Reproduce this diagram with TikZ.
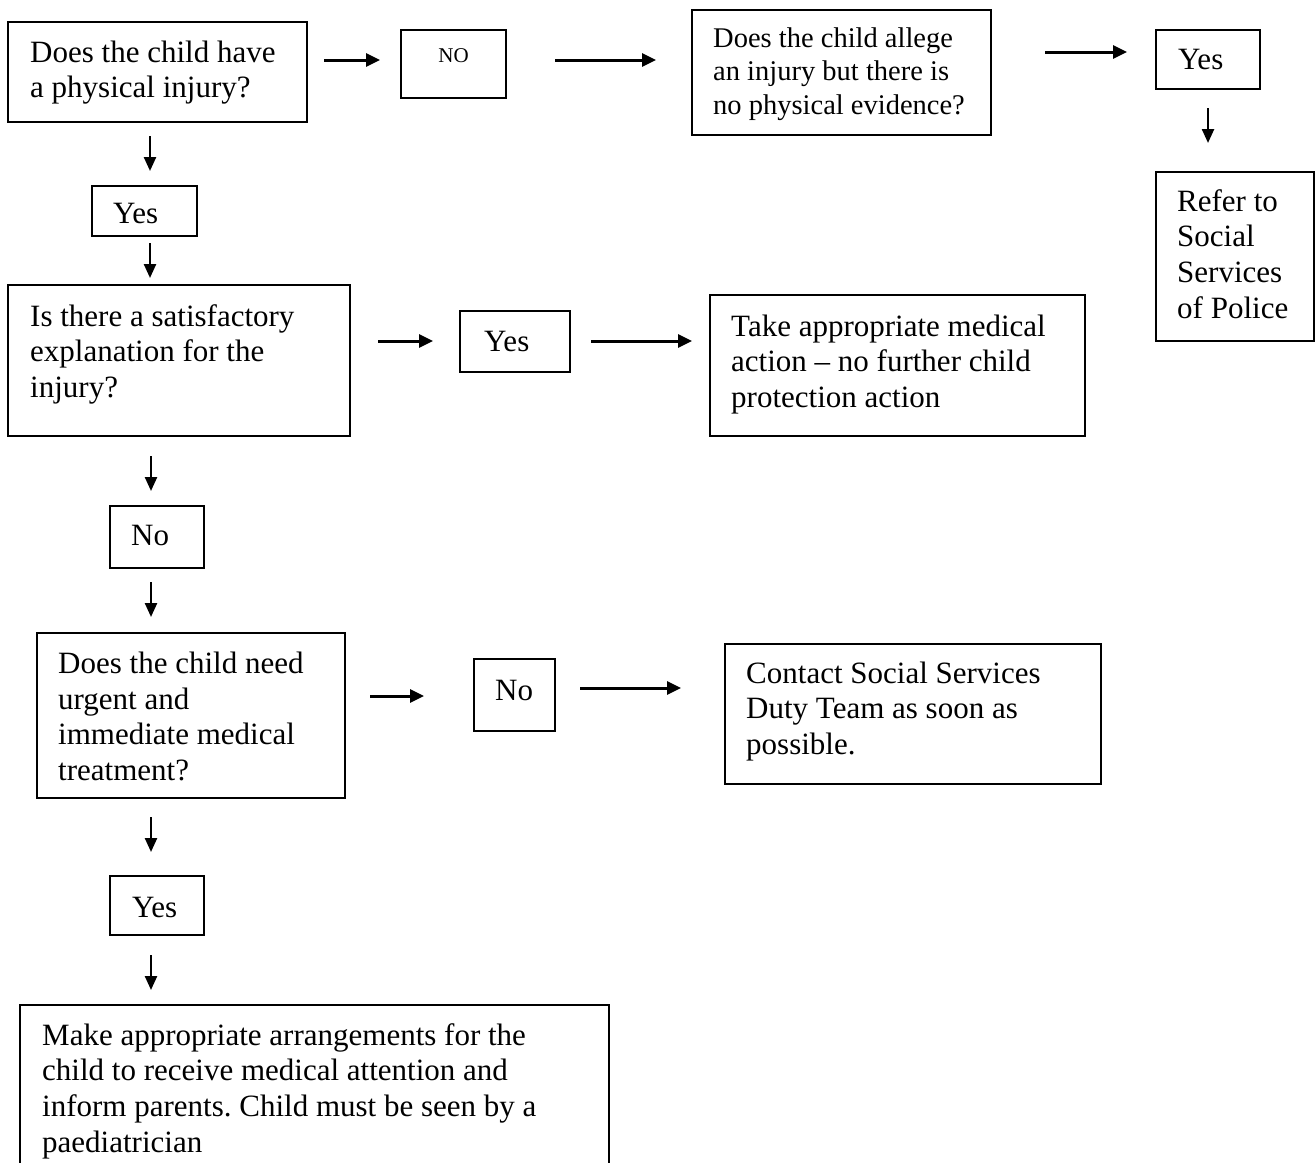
\documentclass[tikz,border=0pt]{standalone}
\usepackage{fontspec}
\setmainfont{Liberation Serif}
\usetikzlibrary{arrows.meta}
\frenchspacing
\newcommand\lns[1]{\begin{tabular}[t]{@{}l@{}}#1\end{tabular}}
\begin{document}
\begin{tikzpicture}[x=1pt,y=-1pt,
  box/.style={draw, line width=2.8pt, inner sep=0pt, outer sep=0pt, anchor=north west},
  txt/.style={inner sep=0pt, anchor=base west, font=\fontsize{31}{35.7}\selectfont},
  harr/.style={line width=3pt, -{Triangle[length=14pt,width=13pt]}},
  varr/.style={line width=2.4pt, -{Triangle[length=14pt,width=12pt]}}]
\fill[white] (0,0) rectangle (1316,1162);
\useasboundingbox (0,0) rectangle (1316,1162);
% boxes
\node[box, minimum width=299pt, minimum height=100pt] (q1) at (8,22) {};
\node[box, minimum width=105pt, minimum height=68pt] (n1) at (401,30) {};
\node[box, minimum width=299pt, minimum height=125pt] (q2) at (692,10) {};
\node[box, minimum width=104pt, minimum height=59pt] (y1) at (1156,30) {};
\node[box, minimum width=158pt, minimum height=169pt] (r1) at (1156,172) {};
\node[box, minimum width=105pt, minimum height=50pt] (y2) at (92,186) {};
\node[box, minimum width=342pt, minimum height=151pt] (q3) at (8,285) {};
\node[box, minimum width=110pt, minimum height=61pt] (y3) at (460,311) {};
\node[box, minimum width=375pt, minimum height=141pt] (a1) at (710,295) {};
\node[box, minimum width=94pt, minimum height=62pt] (n2) at (110,506) {};
\node[box, minimum width=308pt, minimum height=165pt] (q4) at (37,633) {};
\node[box, minimum width=81pt, minimum height=72pt] (n3) at (474,659) {};
\node[box, minimum width=376pt, minimum height=140pt] (a2) at (725,644) {};
\node[box, minimum width=94pt, minimum height=59pt] (y4) at (110,876) {};
\node[box, minimum width=589pt, minimum height=215pt] (a3) at (20,1005) {};
% texts
\node[txt] (q1t) at (30,62) {\lns{Does the child have\\a physical injury?}};
\node[txt, anchor=base, font=\fontsize{21}{24}\selectfont] (n1t) at (453.5,62) {NO};
\node[txt, font=\fontsize{28.5}{33.7}\selectfont] (q2t) at (713,47) {\lns{Does the child allege\\an injury but there is\\no physical evidence?}};
\node[txt] (y1t) at (1178,69) {Yes};
\node[txt] (r1t) at (1177,211) {\lns{Refer to\\Social\\Services\\of Police}};
\node[txt] (y2t) at (113,223) {Yes};
\node[txt] (q3t) at (30,326) {\lns{Is there a satisfactory\\explanation for the\\injury?}};
\node[txt] (y3t) at (484,351) {Yes};
\node[txt] (a1t) at (731,336) {\lns{Take appropriate medical\\action -- no further child\\protection action}};
\node[txt] (n2t) at (131,545) {No};
\node[txt] (q4t) at (58,673.5) {\lns{Does the child need\\urgent and\\immediate medical\\treatment?}};
\node[txt] (n3t) at (495,700) {No};
\node[txt] (a2t) at (746,683) {\lns{Contact Social Services\\Duty Team as soon as\\possible.}};
\node[txt] (y4t) at (132,917) {Yes};
\node[txt] (a3t) at (42,1045) {\lns{Make appropriate arrangements for the\\child to receive medical attention and\\inform parents. Child must be seen by a\\paediatrician}};
% connectors
\draw[harr, shorten <=17pt, shorten >=21pt] (q1.east |- 0,60) -- (n1.west |- 0,60);
\draw[harr, shorten <=49pt, shorten >=36pt] (n1.east |- 0,60) -- (q2.west |- 0,60);
\draw[harr, shorten <=54pt, shorten >=29pt] (q2.east |- 0,52) -- (y1.west |- 0,52);
\draw[varr, shorten <=19pt, shorten >=29pt] (1208,0 |- y1.south) -- (1208,0 |- r1.north);
\draw[varr, shorten <=14pt, shorten >=15pt] (150,0 |- q1.south) -- (150,0 |- y2.north);
\draw[varr, shorten <=7pt, shorten >=7pt] (150,0 |- y2.south) -- (150,0 |- q3.north);
\draw[harr, shorten <=28pt, shorten >=27pt] (q3.east |- 0,341) -- (y3.west |- 0,341);
\draw[harr, shorten <=21pt, shorten >=18pt] (y3.east |- 0,341) -- (a1.west |- 0,341);
\draw[varr, shorten <=20pt, shorten >=15pt] (151,0 |- q3.south) -- (151,0 |- n2.north);
\draw[varr, shorten <=14pt, shorten >=16pt] (151,0 |- n2.south) -- (151,0 |- q4.north);
\draw[harr, shorten <=25pt, shorten >=50pt] (q4.east |- 0,696) -- (n3.west |- 0,696);
\draw[harr, shorten <=25pt, shorten >=44pt] (n3.east |- 0,688) -- (a2.west |- 0,688);
\draw[varr, shorten <=19pt, shorten >=24pt] (151,0 |- q4.south) -- (151,0 |- y4.north);
\draw[varr, shorten <=20pt, shorten >=15pt] (151,0 |- y4.south) -- (151,0 |- a3.north);
\end{tikzpicture}
\end{document}
